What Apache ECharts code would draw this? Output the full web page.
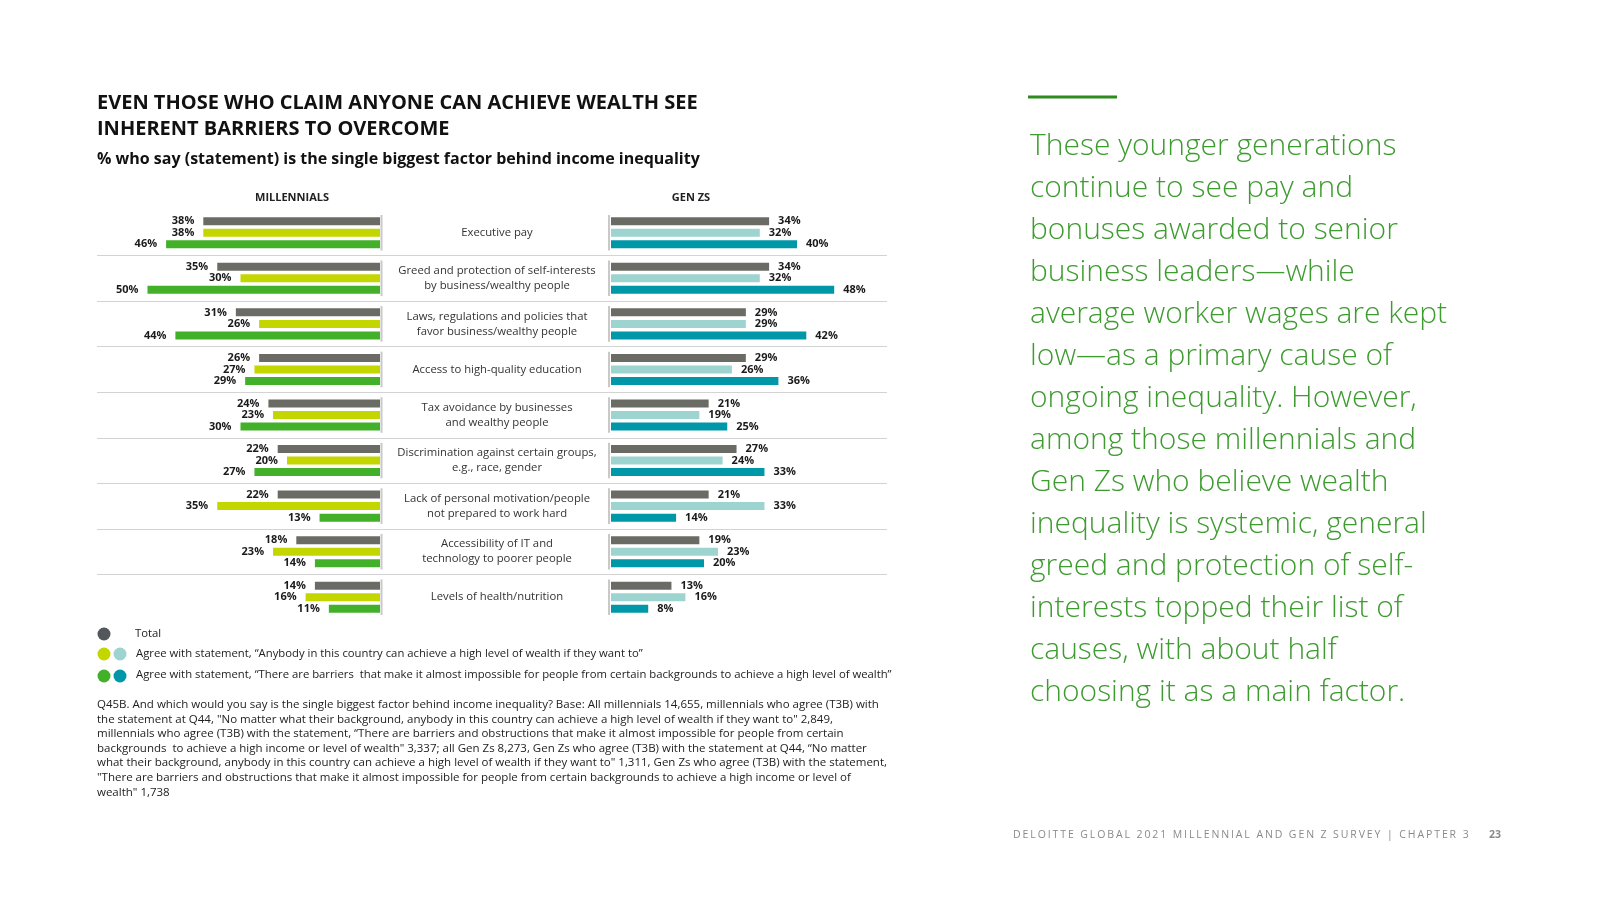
<!DOCTYPE html>
<html>
<head>
<meta charset="utf-8">
<script src="https://cdn.jsdelivr.net/npm/echarts@6/dist/echarts.min.js"></script>
<style>html,body{margin:0;padding:0;background:#fff;}#wrap{position:relative;width:1600px;height:900px;}#c{width:1600px;height:900px;}#f{position:absolute;left:1000px;top:822px;width:480px;height:26px;}</style>
</head>
<body>
<div id="wrap"><div id="c"></div><div id="f"></div></div>
<script>
const categories = [
  'Executive pay',
  'Greed and protection of self-interests\nby business/wealthy people',
  'Laws, regulations and policies that\nfavor business/wealthy people',
  'Access to high-quality education',
  'Tax avoidance by businesses\nand wealthy people',
  'Discrimination against certain groups,\ne.g., race, gender',
  'Lack of personal motivation/people\nnot prepared to work hard',
  'Accessibility of IT and\ntechnology to poorer people',
  'Levels of health/nutrition'
];
const millTotal    = [38, 35, 31, 26, 24, 22, 22, 18, 14];
const millAgree    = [38, 30, 26, 27, 23, 20, 35, 23, 16];
const millBarriers = [46, 50, 44, 29, 30, 27, 13, 14, 11];
const genzTotal    = [34, 34, 29, 29, 21, 27, 21, 19, 13];
const genzAgree    = [32, 32, 29, 26, 19, 24, 33, 23, 16];
const genzBarriers = [40, 48, 42, 36, 25, 33, 14, 20, 8];

const FF = "'Open Sans', 'Noto Sans', sans-serif";
const C = {
  total: '#6b6b66', millAgree: '#c4d600', millBarr: '#43b02a',
  genzAgree: '#9dd4cf', genzBarr: '#0097a9', seg: '#c9c9c9'
};

function barSeries(name, data, color, idx, side) {
  return {
    type: 'bar', name: name, xAxisIndex: idx, yAxisIndex: idx, data: data,
    barWidth: 8, barGap: '44%', silent: true, z: 3,
    itemStyle: { color: color },
    label: {
      show: true, position: side, distance: 9, formatter: '{c}%',
      fontFamily: FF, fontWeight: 'bold', fontSize: 11, color: '#1a1a1a'
    }
  };
}
function segSeries(idx, dx) {
  return {
    type: 'custom', xAxisIndex: idx, yAxisIndex: idx, silent: true, z: 2,
    data: categories.map(function (c, i) { return [0, i]; }),
    encode: { x: 0, y: 1 },
    renderItem: function (params, api) {
      const p = api.coord([0, api.value(1)]);
      const h = api.size([0, 1])[1];
      return {
        type: 'line',
        shape: { x1: p[0] + dx, y1: p[1] - h / 2 + 5, x2: p[0] + dx, y2: p[1] + h / 2 - 5 },
        style: { stroke: C.seg, lineWidth: 2 }
      };
    }
  };
}

const footLines = [
  'Q45B. And which would you say is the single biggest factor behind income inequality? Base: All millennials 14,655, millennials who agree (T3B) with',
  'the statement at Q44, "No matter what their background, anybody in this country can achieve a high level of wealth if they want to" 2,849,',
  'millennials who agree (T3B) with the statement, \u201cThere are barriers and obstructions that make it almost impossible for people from certain',
  'backgrounds  to achieve a high income or level of wealth" 3,337; all Gen Zs 8,273, Gen Zs who agree (T3B) with the statement at Q44, \u201cNo matter',
  'what their background, anybody in this country can achieve a high level of wealth if they want to" 1,311, Gen Zs who agree (T3B) with the statement,',
  '"There are barriers and obstructions that make it almost impossible for people from certain backgrounds to achieve a high income or level of',
  'wealth" 1,738'
];
const paraLines = [
  'These younger generations', 'continue to see pay and', 'bonuses awarded to senior',
  'business leaders\u2014while', 'average worker wages are kept', 'low\u2014as a primary cause of',
  'ongoing inequality. However,', 'among those millennials and', 'Gen Zs who believe wealth',
  'inequality is systemic, general', 'greed and protection of self-', 'interests topped their list of',
  'causes, with about half', 'choosing it as a main factor.'
];

function txt(x, y, text, font, fill, align) {
  return { type: 'text', x: x, y: y, style: { text: text, font: font, fill: fill, align: align || 'left', verticalAlign: 'middle' } };
}

const graphics = [
  txt(97, 103, 'EVEN THOSE WHO CLAIM ANYONE CAN ACHIEVE WEALTH SEE', 'bold 20px ' + FF, '#111'),
  txt(97, 129, 'INHERENT BARRIERS TO OVERCOME', 'bold 20px ' + FF, '#111'),
  txt(97, 159, '% who say (statement) is the single biggest factor behind income inequality', 'bold 16px ' + FF, '#111'),
  txt(292, 198, 'MILLENNIALS', 'bold 11px ' + FF, '#222', 'center'),
  txt(691, 198, 'GEN ZS', 'bold 11px ' + FF, '#222', 'center'),
  // legend
  { type: 'circle', shape: { cx: 104, cy: 634, r: 6.5 }, style: { fill: '#53565a' } },
  { type: 'circle', shape: { cx: 104, cy: 654, r: 6.5 }, style: { fill: C.millAgree } },
  { type: 'circle', shape: { cx: 120, cy: 654, r: 6.5 }, style: { fill: C.genzAgree } },
  { type: 'circle', shape: { cx: 104, cy: 676, r: 6.5 }, style: { fill: C.millBarr } },
  { type: 'circle', shape: { cx: 120, cy: 676, r: 6.5 }, style: { fill: C.genzBarr } },
  txt(135, 634, 'Total', '11.3px ' + FF, '#222'),
  txt(136, 654, 'Agree with statement, \u201cAnybody in this country can achieve a high level of wealth if they want to\u201d', '11.3px ' + FF, '#222'),
  txt(136, 675, 'Agree with statement, \u201cThere are barriers  that make it almost impossible for people from certain backgrounds to achieve a high level of wealth\u201d', '11.3px ' + FF, '#222'),
  // footnote
  { type: 'text', left: 97, top: 697.5, style: { text: footLines.join('\n'), font: '11.5px ' + FF, fill: '#222', lineHeight: 14.6 } },
  // right panel
  { type: 'rect', shape: { x: 1028, y: 95.5, width: 89, height: 3 }, style: { fill: '#2f8a1f' } },
  { type: 'text', left: 1030, top: 125, style: { text: paraLines.join('\n'), font: '300 30px ' + FF, fill: '#3d9b2f', lineHeight: 42 } },
  txt(1501, 835, '23', 'bold 10.5px ' + FF, '#8a8a8a', 'right')
];

const chart = echarts.init(document.getElementById('c'));
chart.setOption({
  animation: false,
  backgroundColor: '#fff',
  grid: [
    { left: 147.5, right: 1220, top: 210, height: 410 },
    { left: 611, right: 756.5, top: 210, height: 410 },
    { left: 97, right: 713, top: 210, height: 410 }
  ],
  xAxis: [
    { gridIndex: 0, type: 'value', min: 0, max: 50, inverse: true, show: false },
    { gridIndex: 1, type: 'value', min: 0, max: 50, show: false },
    { gridIndex: 2, type: 'value', min: 0, max: 1, show: false }
  ],
  yAxis: [
    { gridIndex: 0, type: 'category', data: categories, inverse: true, show: false },
    {
      gridIndex: 1, type: 'category', data: categories, inverse: true,
      axisLine: { show: false }, axisTick: { show: false }, splitLine: { show: false },
      axisLabel: { show: true, align: 'center', margin: 114, fontFamily: FF, fontSize: 11.3, color: '#333', lineHeight: 15, interval: 0 }
    },
    {
      gridIndex: 2, type: 'category', data: categories, inverse: true,
      axisLine: { show: false }, axisTick: { show: false }, axisLabel: { show: false },
      splitLine: { show: true, interval: 0, showMinLine: false, showMaxLine: false, lineStyle: { color: '#d3d3d3', width: 1 } }
    }
  ],
  series: [
    barSeries('Total', millTotal, C.total, 0, 'left'),
    barSeries('Agree: anybody can achieve wealth', millAgree, C.millAgree, 0, 'left'),
    barSeries('Agree: there are barriers', millBarriers, C.millBarr, 0, 'left'),
    barSeries('Total', genzTotal, C.total, 1, 'right'),
    barSeries('Agree: anybody can achieve wealth', genzAgree, C.genzAgree, 1, 'right'),
    barSeries('Agree: there are barriers', genzBarriers, C.genzBarr, 1, 'right'),
    segSeries(0, 1.5),
    segSeries(1, -2)
  ],
  graphic: graphics
});

// footer (letter-spaced) in its own small chart instance
const footer = echarts.init(document.getElementById('f'));
footer.setOption({
  animation: false,
  graphic: [txt(13, 13, 'DELOITTE GLOBAL 2021 MILLENNIAL AND GEN Z SURVEY | CHAPTER 3', '10.5px ' + FF, '#8a8a8a')]
});
try {
  const painter = footer.getZr().painter;
  const layers = painter.getLayers();
  let ok = false;
  Object.keys(layers).forEach(function (k) {
    if (layers[k] && layers[k].ctx && 'letterSpacing' in layers[k].ctx) {
      layers[k].ctx.letterSpacing = '1.9px';
      ok = true;
    }
  });
  if (ok) painter.refresh(true);
} catch (e) {}
</script>
</body>
</html>
